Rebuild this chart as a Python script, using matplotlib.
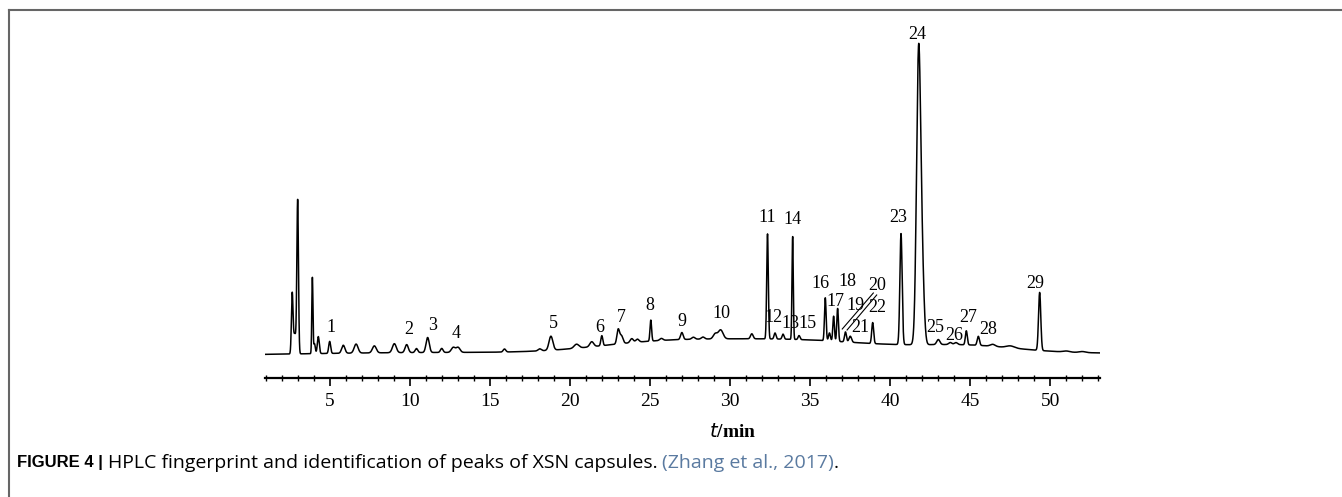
import matplotlib.pyplot as plt
from matplotlib.lines import Line2D
from matplotlib.ticker import MultipleLocator
import numpy as np

# peak table: retention time (min), height (a.u.), sigma (min)
peak_t = [2.64, 2.80, 2.98, 3.90, 4.03, 4.27, 4.98, 5.83, 6.63, 7.77, 9.02, 9.79, 10.4,
          11.1, 11.98, 12.7, 13.0, 15.9, 18.1, 18.8, 20.4, 21.35, 21.98, 23.0, 23.2,
          23.85, 24.2, 25.04, 25.7, 26.98, 27.7, 28.3, 29.06, 29.4, 31.35, 32.33, 32.8,
          33.3, 33.9, 34.3, 35.94, 36.2, 36.46, 36.71, 37.2, 37.5, 38.9, 40.67, 41.77,
          42.0, 43.0, 43.75, 44.1, 44.75, 45.5, 46.4, 47.5, 49.33, 51.0, 52.0]
peak_h = [59, 20, 153, 76, 10, 17, 12, 8, 9, 7, 9, 8, 4,
          15, 4, 5, 5, 3, 2, 14, 4, 5, 10, 14, 8,
          4, 3, 21, 2, 7, 2, 2, 5, 9, 5, 105, 6,
          5, 103, 4, 43, 8, 25, 33, 10, 6, 21, 111, 291,
          60, 5, 2, 2, 14, 9, 2, 2, 58, 1, 1]
peak_w = [0.05, 0.08, 0.05, 0.035, 0.05, 0.06, 0.06, 0.1, 0.12, 0.12, 0.12, 0.1, 0.08,
          0.1, 0.08, 0.12, 0.12, 0.08, 0.1, 0.12, 0.15, 0.12, 0.06, 0.08, 0.1,
          0.1, 0.1, 0.05, 0.1, 0.08, 0.1, 0.1, 0.12, 0.15, 0.08, 0.05, 0.06,
          0.06, 0.04, 0.06, 0.05, 0.06, 0.05, 0.05, 0.06, 0.08, 0.06, 0.07, 0.13,
          0.12, 0.1, 0.1, 0.1, 0.06, 0.07, 0.15, 0.25, 0.07, 0.2, 0.2]

# slow baseline drift
drift_t = [12.0, 25.0, 33.5, 45.0, 50.0]
drift_h = [3.5, 8.0, 15.0, 6.0, 3.0]
drift_w = [9.0, 4.0, 6.0, 3.0, 10.0]

# peak numbers and where they are written
label_num = [str(i) for i in range(1, 30)]
label_t = [5.06, 9.94, 11.42, 12.86, 18.96, 21.83, 23.17, 25.0, 26.98, 29.42,
           32.33, 32.72, 33.78, 33.86, 34.84, 35.63, 36.56, 37.33, 37.81, 39.21,
           38.13, 39.17, 40.52, 41.67, 42.81, 44.02, 44.89, 46.14, 49.06]
label_v = [29, 26, 31, 23, 33, 29, 38, 50, 35, 43,
           139, 39, 33, 137, 33, 73, 54, 74, 51, 70,
           28, 48, 138, 321, 28, 21, 38, 26, 73]

t = np.linspace(0.94, 53.1, 8000)


def gauss_sum(x, cs, hs, ws):
    y = np.zeros_like(x)
    for c, h, w in zip(cs, hs, ws):
        y += h * np.exp(-0.5 * ((x - c) / w) ** 2)
    return y


signal = gauss_sum(t, peak_t, peak_h, peak_w) + gauss_sum(t, drift_t, drift_h, drift_w)

fig = plt.figure(figsize=(13.42, 4.97), dpi=100)
ax = fig.add_axes([265 / 1342, 119 / 497, 835 / 1342, 358 / 497])
ax.plot(t, signal, color='black', lw=1.1)

ax.set_xlim(0.94, 53.1)
ax.set_ylim(-22, 336)
for s in ['left', 'right', 'top']:
    ax.spines[s].set_visible(False)
ax.spines['bottom'].set_linewidth(1.6)
ax.set_yticks([])
ax.xaxis.set_major_locator(MultipleLocator(5))
ax.xaxis.set_minor_locator(MultipleLocator(1))
ax.tick_params(axis='x', which='major', direction='out', length=6, width=1.2, pad=5)
ax.tick_params(axis='x', which='minor', direction='inout', length=4, width=1.0)
for lab in ax.get_xticklabels():
    lab.set_fontfamily('Liberation Serif')
    lab.set_fontsize(14)

plt.rcParams['mathtext.fontset'] = 'stix'
ax.set_xlabel(r'$\mathit{t}$/min', fontsize=14, family='Liberation Serif', fontweight='bold')
ax.xaxis.set_label_coords((733 - 265) / 835, -0.125)

for num, lt, lv in zip(label_num, label_t, label_v):
    ax.text(lt, lv, num, ha='center', va='center', fontsize=13, family='Liberation Serif')

# leader lines for peaks 19/20
ax.plot([38.94, 37.0], [63, 27], color='black', lw=0.8)
ax.plot([39.15, 37.3], [61, 26], color='black', lw=0.8)

# frame around the figure panel
fig.add_artist(Line2D([9 / 1342, 1], [1 - 10 / 497, 1 - 10 / 497], color='#666666', lw=1.5))
fig.add_artist(Line2D([9 / 1342, 9 / 1342], [0, 1 - 10 / 497], color='#666666', lw=1.5))

# caption, pieced together so each part keeps its own style
y_cap = 1 - 463 / 497
parts = [('FIGURE 4 | ', 'Liberation Sans', 12, 'bold', 'black'),
         ('HPLC fingerprint and identification of peaks of XSN capsules. ', 'Open Sans', 14, 'normal', 'black'),
         ('(Zhang et al., 2017)', 'Open Sans', 14, 'normal', '#5a7aa0'),
         ('.', 'Open Sans', 14, 'normal', 'black')]
x_cap = 17
for txt, fam, fs, fw, col in parts:
    tt = fig.text(x_cap / 1342, y_cap, txt, fontsize=fs, fontweight=fw, family=fam,
                  va='center', color=col)
    fig.canvas.draw()
    x_cap = tt.get_window_extent().x1

fig.savefig('out.png', dpi=100)
